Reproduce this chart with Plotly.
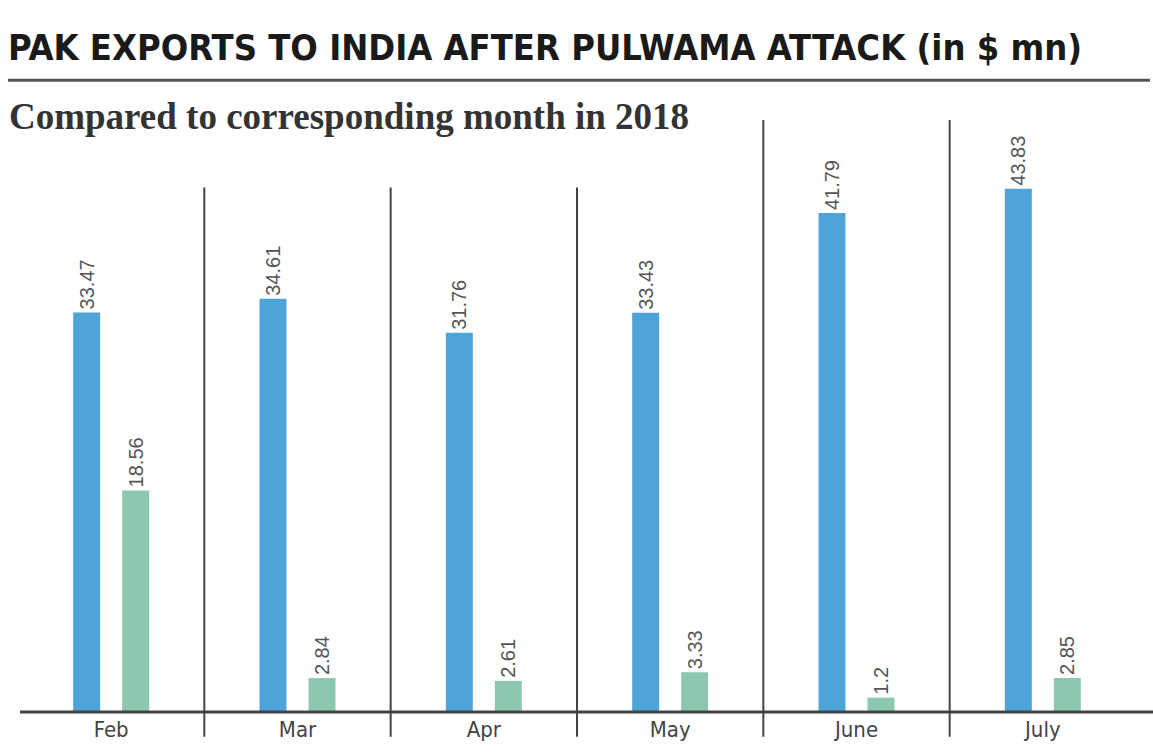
import plotly.graph_objects as go

months = ["Feb", "Mar", "Apr", "May", "June", "July"]
exports_2018 = [33.47, 34.61, 31.76, 33.43, 41.79, 43.83]
exports_2019 = [18.56, 2.84, 2.61, 3.33, 1.2, 2.85]

W, H = 1153, 754
L, R, T, B = 18, 17, 120, 38
plot_h = H - T - B
px_per_unit = 12.02
ymax = plot_h / px_per_unit

def py(pix):  # pixel y -> paper y
    return (H - B - pix) / plot_h

def px(pix):  # pixel x -> paper x
    return (pix - L) / (W - L - R)

label_font = dict(family="Liberation Sans, Arial, sans-serif", size=20, color="#555555")

fig = go.Figure()
fig.add_trace(go.Bar(
    x=months, y=exports_2018, name="2018",
    marker=dict(color="#4ea3d8", line=dict(width=0)),
    text=[f"{v}" for v in exports_2018], textposition="outside",
    textangle=-90, textfont=label_font, constraintext="none", cliponaxis=False,
))
fig.add_trace(go.Bar(
    x=months, y=exports_2019, name="2019",
    marker=dict(color="#8cc7b0", line=dict(width=0)),
    text=[f"{v}" for v in exports_2019], textposition="outside",
    textangle=-90, textfont=label_font, constraintext="none", cliponaxis=False,
))

shapes = []
sep_tops = [188, 188, 188, 120, 120]
for i, top in enumerate(sep_tops):
    shapes.append(dict(type="line", xref="x", yref="paper",
                       x0=i + 0.5, x1=i + 0.5, y0=py(741), y1=py(top),
                       line=dict(color="#444444", width=2)))
shapes.append(dict(type="line", xref="paper", yref="paper",
                   x0=px(20), x1=px(1153), y0=py(716), y1=py(716),
                   line=dict(color="#444444", width=3)))
shapes.append(dict(type="line", xref="paper", yref="paper",
                   x0=px(8), x1=px(1150), y0=py(80), y1=py(80),
                   line=dict(color="#555555", width=3)))

annotations = [
    dict(text="PAK EXPORTS TO INDIA AFTER PULWAMA ATTACK (in $ mn)",
         xref="paper", yref="paper", x=px(6), y=py(47),
         xanchor="left", yanchor="middle", showarrow=False,
         font=dict(family="DejaVu Sans Condensed, DejaVu Sans, sans-serif",
                   size=36, color="#1a1a1a", weight="bold")),
    dict(text="<b>Compared to corresponding month in 2018</b>",
         xref="paper", yref="paper", x=px(7), y=py(116),
         xanchor="left", yanchor="middle", showarrow=False,
         font=dict(family="Liberation Serif, DejaVu Serif, serif",
                   size=37, color="#333333")),
]

fig.update_layout(
    width=W, height=H,
    margin=dict(l=L, r=R, t=T, b=B),
    paper_bgcolor="white", plot_bgcolor="white",
    barmode="group", bargap=0.474, bargroupgap=0.45,
    showlegend=False,
    shapes=shapes, annotations=annotations,
    xaxis=dict(type="category", range=[-0.5, 5.5], showgrid=False, zeroline=False,
               showline=False, ticks="", ticklabelstandoff=2,
               tickfont=dict(family="DejaVu Sans Condensed, DejaVu Sans, sans-serif",
                             size=22, color="#444444")),
    yaxis=dict(range=[0, ymax], visible=False, showgrid=False, zeroline=False),
)

fig.write_html("out.html")
